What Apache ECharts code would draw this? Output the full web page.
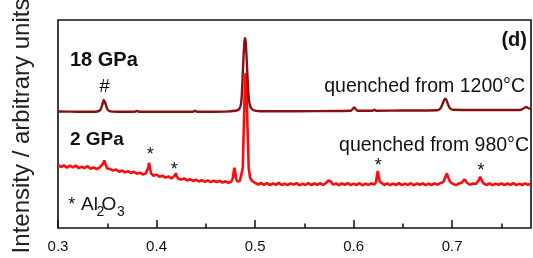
<!DOCTYPE html>
<html>
<head>
<meta charset="utf-8">
<script src="https://cdn.jsdelivr.net/npm/echarts@6/dist/echarts.min.js"></script>
<style>
html,body{margin:0;padding:0;background:#fff;}
#c{width:533px;height:258px;}
</style>
</head>
<body>
<div id="c"></div>
<script>
// x tick values
const majorTicks = [0.3, 0.4, 0.5, 0.6, 0.7];
const minorTicks = [0.35, 0.45, 0.55, 0.65, 0.75];

// 18 GPa pattern (quenched from 1200 C), arbitrary units
const pattern18GPa = [
  [0.300,116.5],[0.320,116.3],[0.335,116.2],[0.340,116.5],[0.343,118.3],[0.345,123.5],[0.3465,128],[0.348,125],[0.350,119],[0.353,116.6],
  [0.360,116.2],[0.378,116.2],[0.380,117.1],[0.382,116.2],[0.400,116.3],[0.437,116.3],[0.439,117.2],[0.441,116.3],[0.470,116.4],
  [0.480,117.2],[0.484,119],[0.486,126],[0.4875,155],[0.489,184],[0.4898,190],[0.4906,185],[0.492,158],[0.4935,131],[0.495,122],
  [0.498,118],[0.505,116.7],[0.540,116.8],[0.580,117],[0.597,117.2],[0.599,119],[0.6005,120.6],[0.602,119],[0.604,117.3],
  [0.619,117.3],[0.621,118.3],[0.623,117.3],[0.650,117.5],[0.685,117.8],[0.688,119.5],[0.690,123.5],[0.692,128.3],[0.693,129.3],
  [0.694,128.3],[0.696,123],[0.698,119.5],[0.701,118.2],[0.720,118],[0.760,118],[0.770,118.3],[0.773,120],[0.775,121],[0.777,120],[0.780,118.8]
];

// 2 GPa pattern (quenched from 980 C), arbitrary units
const pattern2GPa = [
  [0.300,63.2],[0.303,61.0],[0.306,62.6],[0.309,60.4],[0.312,62.5],[0.315,60.7],[0.318,62.4],[0.321,59.8],[0.324,61.3],[0.327,60.0],
  [0.330,61.8],[0.333,59.2],[0.336,60.6],[0.339,59.0],[0.342,60.3],[0.344,60.5],[0.3455,64],[0.347,67.5],[0.3485,63],[0.350,59.5],
  [0.353,58.9],[0.356,57.4],[0.359,58.6],[0.362,56.2],[0.365,57.5],[0.368,55.6],[0.371,56.9],[0.374,55.0],[0.377,56.3],[0.380,54.2],
  [0.383,55.4],[0.386,53.6],[0.389,54.6],[0.3905,55],[0.3915,60],[0.3924,65.3],[0.3933,60],[0.3945,54.5],[0.397,52.3],[0.400,53.4],
  [0.403,51.2],[0.406,52.3],[0.409,50.4],[0.412,51.6],[0.415,49.5],[0.417,50.5],[0.4185,52.5],[0.4195,54.7],[0.4205,52],[0.422,49.2],
  [0.425,48.4],[0.428,49.6],[0.431,47.5],[0.434,48.8],[0.437,47.0],[0.440,48.3],[0.443,46.5],[0.446,47.9],[0.449,46.2],[0.452,47.6],
  [0.455,45.8],[0.458,47.3],[0.461,46.0],[0.464,47.2],[0.467,45.4],[0.470,46.7],[0.473,45.2],[0.476,46.4],[0.4775,50],[0.4785,58],
  [0.479,60.3],[0.4797,57],[0.4808,49],[0.482,46.5],[0.4845,47],[0.486,49],[0.4875,60],[0.4888,110],[0.4898,148],[0.4905,155],
  [0.4912,145],[0.4922,105],[0.4935,60],[0.495,50],[0.497,47],[0.500,45.2],[0.503,43.5],[0.506,45.0],[0.509,43.2],[0.512,44.8],
  [0.515,42.9],[0.518,44.6],[0.521,43.1],[0.524,45.1],[0.527,43.0],[0.530,44.3],[0.533,42.8],[0.536,44.7],[0.539,43.3],[0.542,44.9],
  [0.545,42.7],[0.548,44.2],[0.551,43.0],[0.554,44.8],[0.557,42.9],[0.560,44.5],[0.563,43.2],[0.566,44.9],[0.569,43.0],[0.572,45.0],
  [0.5745,47.5],[0.5755,48.7],[0.5768,46.5],[0.579,43.4],[0.582,44.6],[0.585,42.8],[0.588,44.5],[0.591,43.1],[0.594,44.9],[0.597,42.9],
  [0.600,44.4],[0.603,43.0],[0.606,44.8],[0.609,42.7],[0.612,44.3],[0.615,43.1],[0.618,44.7],[0.621,43.4],[0.6228,46],[0.6238,53],
  [0.6245,57],[0.6252,53],[0.6265,46.5],[0.628,44.5],[0.631,43.0],[0.634,44.6],[0.637,42.8],[0.640,44.4],[0.643,43.0],[0.646,44.9],
  [0.649,42.9],[0.652,44.2],[0.655,43.1],[0.658,44.8],[0.661,42.7],[0.664,44.5],[0.667,43.2],[0.670,44.6],[0.673,42.9],[0.676,44.4],
  [0.679,43.0],[0.682,44.7],[0.685,43.3],[0.688,44.9],[0.691,46],[0.6928,50],[0.6946,54.7],[0.6962,50],[0.698,46],[0.701,44.0],
  [0.704,42.9],[0.707,44.6],[0.710,45.5],[0.7125,48.7],[0.715,45.3],[0.718,43.2],[0.721,44.6],[0.724,44.0],[0.7268,47.5],[0.7284,51.3],
  [0.730,47.5],[0.732,44.5],[0.735,43.0],[0.738,44.5],[0.741,42.8],[0.744,44.3],[0.747,43.2],[0.750,44.7],[0.753,42.9],[0.756,44.5],
  [0.759,43.1],[0.762,44.8],[0.765,42.8],[0.768,44.2],[0.771,43.0],[0.774,44.6],[0.777,43.2],[0.780,44.4]
];

const chart = echarts.init(document.getElementById('c'), null, {renderer:'canvas'});
const FF = '"Liberation Sans", Arial, sans-serif';
function t(x, y, s, size, align, bold) {
  return {type:'text', x:x, y:y, z:100, style:{text:s, fontFamily:FF, fontSize:size,
    fontWeight: bold ? 'bold' : 'normal', fill:'#111', align:align || 'left', verticalAlign:'middle'}};
}

chart.setOption({
  animation:false,
  grid:{left:58, right:2, top:20, bottom:30, show:true, borderColor:'#111', borderWidth:1.6, backgroundColor:'transparent'},
  xAxis:[{
    type:'value', min:0.3, max:0.78, interval:0.1,
    axisLine:{show:false},
    splitLine:{show:false},
    axisTick:{show:true, inside:true, length:8, customValues: majorTicks, lineStyle:{color:'#111', width:1.5}},
    axisLabel:{show:true, customValues: majorTicks, margin:11, fontSize:15, fontFamily:FF, color:'#111',
      formatter:function(v){return v.toFixed(1);}}
  },{
    type:'value', min:0.3, max:0.78, position:'bottom',
    axisLine:{show:false}, splitLine:{show:false},
    axisTick:{show:true, inside:true, length:4.5, customValues: minorTicks, lineStyle:{color:'#111', width:1.5}},
    axisLabel:{show:false}
  }],
  yAxis:{type:'value', min:0, max:208, show:false},
  series:[
    {type:'line', xAxisIndex:0, data:pattern2GPa, showSymbol:false, symbol:'none',
      lineStyle:{color:'#ff0a0a', width:2.6}, z:2},
    {type:'line', xAxisIndex:0, data:pattern18GPa, showSymbol:false, symbol:'none', smooth:0.3,
      lineStyle:{color:'#8c0f0f', width:2.4}, z:3}
  ],
  graphic:[
    {type:'text', x:22, y:126, rotation:Math.PI/2, z:100,
      style:{text:'Intensity / arbitrary units', fontFamily:FF, fontSize:24, fill:'#222', align:'center', verticalAlign:'middle'}},
    t(70, 60, '18 GPa', 20, 'left', true),
    t(70, 140, '2 GPa', 19, 'left', true),
    t(527, 40, '(d)', 20, 'right', true),
    t(104.5, 87, '#', 19, 'center', false),
    t(525, 86.5, 'quenched from 1200°C', 19.5, 'right', false),
    t(529, 145.5, 'quenched from 980°C', 19.5, 'right', false),
    t(150.3, 154.6, '*', 18, 'center', false),
    t(174.3, 170, '*', 18, 'center', false),
    t(378.3, 166.3, '*', 18, 'center', false),
    t(481, 171.3, '*', 18, 'center', false),
    t(71.7, 205.3, '*', 18, 'center', false),
    t(81, 204.4, 'Al', 19, 'left', false),
    t(96.5, 212.4, '2', 14, 'left', false),
    t(101.5, 204.4, 'O', 19, 'left', false),
    t(117, 212.4, '3', 14, 'left', false)
  ]
});
</script>
</body>
</html>
